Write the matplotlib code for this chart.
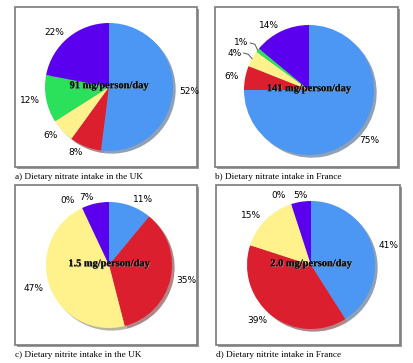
import numpy as np
import matplotlib
matplotlib.use("Agg")
import matplotlib.pyplot as plt
import matplotlib.patches as patches
import matplotlib.patheffects as pe

# Slice order: clockwise from 12 o'clock
colors = ["#4c97f3", "#dc1f2e", "#fff18b", "#2be05a", "#5b00ee"]

nitrate_uk = [52, 8, 6, 12, 22]
nitrate_fr = [75, 6, 4, 1, 14]
nitrite_uk = [11, 35, 47, 0, 7]
nitrite_fr = [41, 39, 15, 0, 5]

totals = ["91 mg/person/day", "141 mg/person/day",
          "1.5 mg/person/day", "2.0 mg/person/day"]
captions = ["a) Dietary nitrate intake in the UK",
            "b) Dietary nitrate intake in France",
            "c) Dietary nitrite intake in the UK",
            "d) Dietary nitrite intake in France"]

W, H = 414, 363
fig = plt.figure(figsize=(W / 100, H / 100), dpi=100)

# panel layout in pixels: box (x0, y0, x1, y1), pie centre, radius
panels = [
    ((15, 7, 197, 167), (109, 87), 64),
    ((215, 7, 398, 167), (309, 90), 65),
    ((15, 185, 197, 345), (109, 265), 63),
    ((216, 185, 400, 345), (311, 265), 64),
]
data = [nitrate_uk, nitrate_fr, nitrite_uk, nitrite_fr]


def fx(x):
    return x / W


def fy(y):
    return 1 - y / H


for vals, total, cap, (box, (cx, cy), r) in zip(data, totals, captions, panels):
    x0, y0, x1, y1 = box
    # shadow then frame
    fig.patches.append(patches.Rectangle((fx(x0 + 2), fy(y1 + 2)), fx(x1 - x0), (y1 - y0) / H,
                                         transform=fig.transFigure, facecolor="#9a9a9a",
                                         edgecolor="none", zorder=-2))
    fig.patches.append(patches.Rectangle((fx(x0), fy(y1)), fx(x1 - x0), (y1 - y0) / H,
                                         transform=fig.transFigure, facecolor="white",
                                         edgecolor="#7a7a7a", lw=1.2, zorder=-1))
    fig.text(fx(x0), fy(y1 + 10), cap, fontsize=6.7, family="Liberation Serif",
             ha="left", va="center")

    # pie axes: square covering the pie with label margin
    half = r * 1.5
    ax = fig.add_axes([fx(cx - half), fy(cy + half), 2 * half / W, 2 * half / H])
    ax.set_zorder(2)
    ax.patch.set_visible(False)

    labels = [f"{v}%" for v in vals]
    wedges, texts = ax.pie(vals, colors=colors, startangle=90, counterclock=False,
                           labels=labels, labeldistance=1.1,
                           shadow=dict(ox=0.03, oy=-0.03, shade=0.55),
                           wedgeprops=dict(linewidth=0),
                           textprops=dict(fontsize=6.5, family="DejaVu Sans"))
    ax.set_xlim(-1.5, 1.5)
    ax.set_ylim(-1.5, 1.5)
    ax.set_aspect("equal")
    ax.axis("off")

    for w, t, v in zip(wedges, texts, vals):
        ang = np.deg2rad((w.theta1 + w.theta2) / 2)
        if v == 0:
            t.set_position((1.2 * np.cos(ang) - 0.03, 1.14 * np.sin(ang)))
        elif v < 5:
            # small slices: push label out and add a leader line
            lx, ly = 1.18 * np.cos(ang), 1.18 * np.sin(ang)
            t.set_position((lx, ly))
            ax.plot([lx + 0.03, lx + 0.1, np.cos(ang)],
                    [ly, ly - 0.02, np.sin(ang)],
                    color="#555555", lw=0.7)
        elif abs(np.cos(ang)) < 0.2:
            t.set_ha("center")

    ax.text(0, 0.02, total, ha="center", va="center", fontsize=7.5,
            fontweight="bold", family="Liberation Serif", color="#111111",
            path_effects=[pe.withSimplePatchShadow(offset=(0.6, -0.6),
                                                   shadow_rgbFace="#999999", alpha=0.8),
                          pe.Normal()])

fig.savefig("out.png", dpi=100)
